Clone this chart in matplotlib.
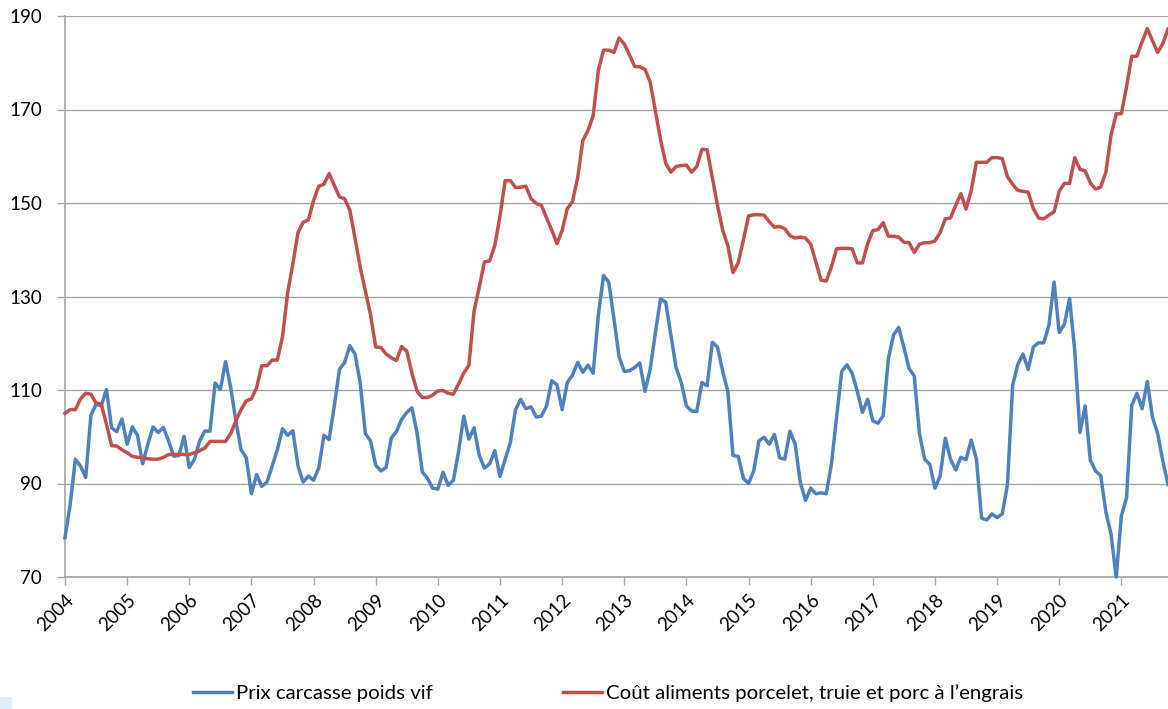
import numpy as np
import matplotlib
matplotlib.use("Agg")
import matplotlib.pyplot as plt
from matplotlib.patches import Rectangle

# ---- data (monthly, Jan 2004 -> Oct 2021) ----
year_labels = [str(y) for y in range(2004, 2022)]

prix_carcasse = [
    78.4, 85.5, 95.2, 93.7, 91.3, 104.6, 107.0, 106.6, 110.1, 101.9, 101.1, 103.8,   # 2004
    98.4, 102.1, 100.3, 94.2, 98.4, 102.1, 100.9, 102.0, 99.1, 95.8, 96.0, 100.1,    # 2005
    93.4, 95.2, 99.1, 101.2, 101.2, 111.5, 110.1, 116.1, 110.5, 103.4, 97.2, 95.5,   # 2006
    87.8, 91.9, 89.4, 90.3, 93.7, 97.2, 101.7, 100.3, 101.3, 93.7, 90.3, 91.6,       # 2007
    90.7, 93.3, 100.3, 99.4, 106.6, 114.4, 115.9, 119.5, 117.7, 111.6, 100.7, 99.1,  # 2008
    93.9, 92.7, 93.4, 99.7, 101.1, 103.7, 105.2, 106.2, 100.7, 92.5, 91.1, 89.0,     # 2009
    88.8, 92.4, 89.6, 90.7, 96.8, 104.4, 99.5, 101.9, 96.0, 93.3, 94.2, 97.0,        # 2010
    91.5, 95.2, 98.8, 105.8, 108.0, 106.0, 106.4, 104.2, 104.4, 106.6, 112.0, 111.1, # 2011
    105.8, 111.6, 113.2, 115.9, 113.8, 115.3, 113.6, 126.1, 134.5, 133.1, 125.3, 117.1,  # 2012
    114.0, 114.1, 114.8, 115.8, 109.7, 114.4, 122.2, 129.5, 128.8, 121.8, 114.8, 111.6,  # 2013
    106.6, 105.5, 105.4, 111.6, 110.9, 120.2, 119.2, 114.0, 109.7, 96.0, 95.8, 91.1,     # 2014
    90.0, 92.7, 99.1, 99.9, 98.4, 100.5, 95.5, 95.2, 101.2, 98.4, 90.2, 86.4,        # 2015
    89.0, 87.8, 88.0, 87.8, 94.1, 104.2, 114.0, 115.4, 113.6, 109.7, 105.2, 108.0,   # 2016
    103.4, 102.9, 104.5, 116.7, 121.8, 123.4, 119.1, 114.6, 113.0, 100.7, 95.2, 94.1,  # 2017
    89.0, 91.6, 99.7, 95.2, 92.9, 95.6, 95.1, 99.3, 95.2, 82.6, 82.2, 83.5,          # 2018
    82.7, 83.5, 89.8, 111.0, 115.5, 117.7, 114.4, 119.2, 120.1, 120.1, 123.8, 133.1,  # 2019
    122.3, 124.1, 129.6, 118.3, 100.9, 106.6, 95.0, 92.7, 91.7, 83.9, 79.2, 70.0,    # 2020
    83.1, 87.0, 106.7, 109.3, 106.0, 111.8, 104.2, 100.7, 94.8, 89.8,                # 2021
]

cout_aliments = [
    105.0, 105.8, 105.8, 108.1, 109.3, 109.1, 107.2, 107.0, 102.7, 98.1, 98.0, 97.2,  # 2004
    96.6, 95.8, 95.6, 95.5, 95.3, 95.2, 95.2, 95.6, 96.2, 96.2, 96.2, 96.2,          # 2005
    96.2, 96.6, 97.0, 97.6, 99.0, 99.0, 99.0, 99.0, 100.7, 103.4, 105.8, 107.7,      # 2006
    108.1, 110.5, 115.2, 115.2, 116.4, 116.4, 121.4, 130.8, 137.0, 143.7, 145.9, 146.4,  # 2007
    150.5, 153.6, 154.0, 156.3, 153.8, 151.3, 150.9, 148.5, 142.5, 136.3, 131.2, 126.1,  # 2008
    119.2, 119.1, 117.7, 116.9, 116.3, 119.3, 118.3, 113.6, 109.7, 108.4, 108.4, 108.9,  # 2009
    109.8, 109.9, 109.3, 109.1, 111.3, 113.6, 115.3, 126.9, 132.0, 137.4, 137.6, 140.9,  # 2010
    147.2, 154.8, 154.8, 153.3, 153.4, 153.6, 150.9, 149.9, 149.5, 146.8, 144.2, 141.3,  # 2011
    144.1, 148.8, 150.3, 155.4, 163.4, 165.5, 168.7, 178.4, 182.7, 182.7, 182.2, 185.3,  # 2012
    184.0, 181.7, 179.2, 179.1, 178.6, 175.9, 169.8, 163.6, 158.5, 156.6, 157.8, 158.0,  # 2013
    158.1, 156.6, 157.8, 161.5, 161.4, 155.4, 149.5, 144.2, 140.9, 135.1, 137.2, 142.1,  # 2014
    147.2, 147.5, 147.5, 147.4, 146.0, 144.8, 145.0, 144.5, 143.0, 142.5, 142.7, 142.5,  # 2015
    141.2, 137.4, 133.5, 133.3, 136.3, 140.2, 140.3, 140.3, 140.2, 137.2, 137.2, 141.3,  # 2016
    144.1, 144.3, 145.8, 142.9, 142.9, 142.7, 141.6, 141.5, 139.4, 141.2, 141.5, 141.5,  # 2017
    141.9, 143.7, 146.6, 146.8, 149.5, 152.0, 148.7, 152.7, 158.7, 158.7, 158.7, 159.7,  # 2018
    159.7, 159.5, 155.6, 154.0, 152.7, 152.5, 152.3, 148.8, 146.8, 146.6, 147.4, 148.1,  # 2019
    152.5, 154.2, 154.2, 159.7, 157.2, 156.9, 154.3, 153.0, 153.4, 156.6, 164.5, 169.1,  # 2020
    169.1, 174.9, 181.4, 181.4, 184.5, 187.3, 184.7, 182.2, 184.1, 187.2,                # 2021
]

series_labels = ["Prix carcasse poids vif",
                 "Coût aliments porcelet, truie et porc à l\u2019engrais"]
y_ticks = [70, 90, 110, 130, 150, 170, 190]

# ---- style ----
plt.rcParams['font.family'] = ['Lato', 'DejaVu Sans']
BLUE = '#4F81BD'
RED = '#C0504D'
GRID = '#A6A6A6'
FS = 13.5
FS_LEG = 14.7

W, H = 1168, 709
fig = plt.figure(figsize=(W / 100, H / 100), dpi=100)
ax = fig.add_axes([65 / W, (H - 577) / H, (1168 - 65) / W, (577 - 16) / H])

x = np.arange(len(prix_carcasse))
ax.plot(x, prix_carcasse, color=BLUE, lw=2.5, label=series_labels[0],
        solid_joinstyle='round', clip_on=False, zorder=3)
ax.plot(x, cout_aliments, color=RED, lw=2.5, label=series_labels[1],
        solid_joinstyle='round', clip_on=False, zorder=3)

ax.set_xlim(0, len(prix_carcasse) - 1)
ax.set_ylim(70, 190)
ax.set_yticks(y_ticks)
ax.set_yticklabels([str(v) for v in y_ticks], fontsize=FS)
ax.yaxis.grid(True, color=GRID, lw=1.0)
ax.set_axisbelow(True)

xt = np.arange(0, 12 * len(year_labels), 12)
ax.set_xticks(xt)
ax.set_xticklabels(year_labels, fontsize=FS, rotation=45, ha='right',
                   rotation_mode='anchor')

for s in ['top', 'right']:
    ax.spines[s].set_visible(False)
for s in ['left', 'bottom']:
    ax.spines[s].set_color(GRID)
    ax.spines[s].set_linewidth(1.2)
ax.tick_params(axis='both', colors=GRID, length=6, width=1.0, labelcolor='black')
ax.tick_params(axis='x', pad=4)
ax.tick_params(axis='y', pad=10.5)

leg = fig.legend(loc='center', bbox_to_anchor=(0.5205, 1 - 693 / H), ncol=2,
                 frameon=False, fontsize=FS_LEG, handlelength=1.9, handletextpad=0.2,
                 columnspacing=6.4)

# small light-blue artifact at bottom-left corner
fig.patches.append(Rectangle((0, 0), 12 / W, 12 / H, transform=fig.transFigure,
                             facecolor='#DDF0FA', edgecolor='none'))

fig.savefig('out.png', dpi=100)
